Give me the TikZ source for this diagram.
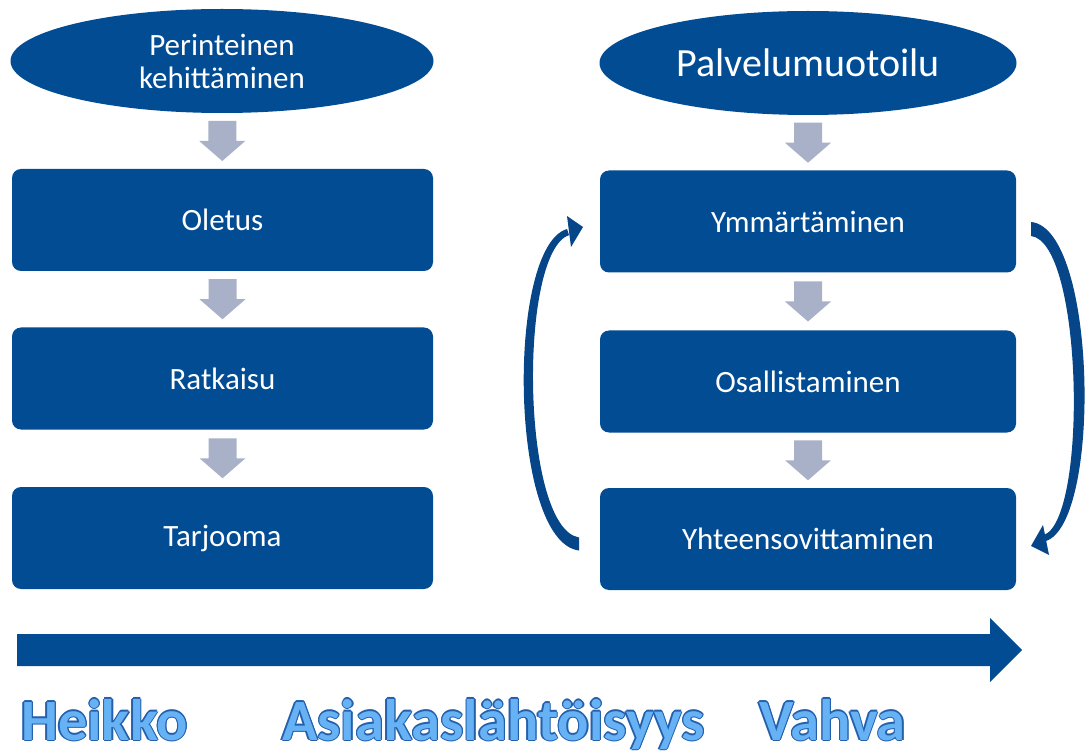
\documentclass[tikz,border=0pt]{standalone}
\usepackage{fontspec}
\setmainfont{Carlito}
\usetikzlibrary{shapes.geometric,calc}

\definecolor{boxblue}{RGB}{2,76,148}
\definecolor{arrowgrey}{RGB}{169,177,200}
\definecolor{curveblue}{RGB}{6,70,136}
\definecolor{labelfill}{RGB}{102,178,245}
\definecolor{labelline}{RGB}{35,95,170}

% outlined caption text: dark copies shifted around, light copy on top
\newcommand\olshift[3]{\rlap{\hspace*{#1}\raisebox{#2}{\color{labelline}#3}}}
\newcommand\outlined[1]{%
  \olshift{1.3pt}{0pt}{#1}\olshift{-1.3pt}{0pt}{#1}%
  \olshift{0pt}{1.3pt}{#1}\olshift{0pt}{-1.3pt}{#1}%
  \olshift{0.9pt}{0.9pt}{#1}\olshift{-0.9pt}{0.9pt}{#1}%
  \olshift{0.9pt}{-0.9pt}{#1}\olshift{-0.9pt}{-0.9pt}{#1}%
  {\color{labelfill}#1}}

\tikzset{
  stepbox/.style={fill=boxblue, rounded corners=9pt, minimum width=421pt,
    minimum height=102pt, inner sep=0pt, text=white,
    font=\fontsize{31}{34}\selectfont},
  headell/.style={ellipse, fill=boxblue, minimum width=423pt,
    minimum height=104pt, inner sep=0pt, text=white, align=center,
    font=\fontsize{31}{33}\selectfont},
  caption/.style={anchor=base west, inner sep=0pt,
    font=\fontsize{58.5}{60}\selectfont\bfseries},
  flowarrow/.style={fill=arrowgrey},
  loopfill/.style={fill=curveblue},
}

% grey block arrow centred in the gap between two nodes
\newcommand\greyarrow[2]{%
  \path ($(#1.south)!0.5!(#2.north)$) coordinate (mid);
  \fill[flowarrow] ([shift={(-14,-20)}]mid) -- ([shift={(14,-20)}]mid)
    -- ([shift={(14,0)}]mid) -- ([shift={(23,0)}]mid)
    -- ([shift={(0,20)}]mid) -- ([shift={(-23,0)}]mid)
    -- ([shift={(-14,0)}]mid) -- cycle;}

\begin{document}
\begin{tikzpicture}[x=1pt,y=-1pt]
\useasboundingbox (0,0) rectangle (1085,751);

% left column: traditional development
\node[headell] (trad) at (222,61) {Perinteinen\\kehittäminen};
\node[stepbox] (ole) at (222.5,220) {Oletus};
\node[stepbox] (rat) at (222.5,378.5) {Ratkaisu};
\node[stepbox] (tar) at (222.5,538) {Tarjooma};

% right column: service design
\node[headell, minimum width=417pt, font=\fontsize{40}{44}\selectfont] (serv) at (808,63) {Palvelumuotoilu};
\node[stepbox, minimum width=416pt] (ymm) at (808,221.5) {Ymmärtäminen};
\node[stepbox, minimum width=416pt] (osa) at (808,381.5) {Osallistaminen};
\node[stepbox, minimum width=416pt] (yht) at (808,539) {Yhteensovittaminen};

\greyarrow{trad}{ole}
\greyarrow{ole}{rat}
\greyarrow{rat}{tar}
\greyarrow{serv}{ymm}
\greyarrow{ymm}{osa}
\greyarrow{osa}{yht}

% feedback loop on the left: from the last step back up to the first
\fill[loopfill] (579,550.5) .. controls (509,542) and (506,247) .. (567,229)
  -- (569,235) .. controls (518,253) and (521,528) .. (579,537.5) -- cycle;
\fill[loopfill] (583,227) -- (567,216) -- (571,247) -- cycle;

% feedback loop on the right: from the first step down to the last
\fill[loopfill] (1031,222) .. controls (1097,228) and (1102,522) .. (1046,541)
  -- (1044,535) .. controls (1088,518) and (1083,242) .. (1031,236) -- cycle;
\fill[loopfill] (1031,546) -- (1043,525) -- (1049,555) -- cycle;

% scale arrow along the bottom
\coordinate (scalestart) at (17,650);
\coordinate (scaleend) at (1022,650);
\fill[boxblue] ($(scalestart)+(0,-16)$) -- ($(scaleend)+(-32,-16)$)
  -- ($(scaleend)+(-32,-32)$) -- (scaleend) -- ($(scaleend)+(-32,32)$)
  -- ($(scaleend)+(-32,16)$) -- ($(scalestart)+(0,16)$) -- cycle;

\node[caption] (weak) at (21,740) {\outlined{Heikko}};
\node[caption] (axis) at (282,740) {\outlined{Asiakaslähtöisyys}};
\node[caption] (strong) at (759,740) {\outlined{Vahva}};
\end{tikzpicture}
\end{document}
